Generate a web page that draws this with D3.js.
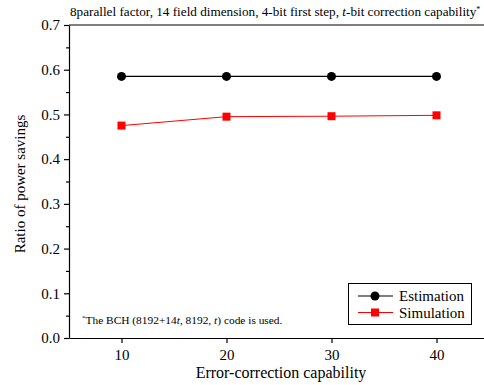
<!DOCTYPE html>
<html><head><meta charset="utf-8">
<script src="https://cdn.jsdelivr.net/npm/d3@7"></script>
<style>body{margin:0;background:#fff}svg{display:block}</style>
</head><body><svg id="c" width="484" height="385" font-family="Liberation Serif"></svg>
<script>
const capabilities = [10, 20, 30, 40];
const estimation = [0.585, 0.585, 0.585, 0.585];
const simulation = [0.475, 0.495, 0.496, 0.498];
const xTicks = [10, 20, 30, 40];
const yTicks = [0.0, 0.1, 0.2, 0.3, 0.4, 0.5, 0.6, 0.7];

const FONT = "Liberation Serif";
const svg = d3.select("#c");
const L = 69, T = 25, B = 338;
const x = d3.scaleLinear().domain([5, 45]).range([L, L + 420]);
const y = d3.scaleLinear().domain([0, 0.7]).range([B, T]);

svg.append("line").attr("x1", L).attr("x2", 484).attr("y1", T).attr("y2", T).attr("stroke", "#000").attr("stroke-width", 1.2);

const yAxis = svg.append("g").attr("transform", `translate(${L},0)`)
  .call(d3.axisLeft(y).tickValues(yTicks).tickFormat(d3.format(".1f")).tickSize(5).tickSizeOuter(0));
svg.append("g").attr("transform", `translate(${L},0)`)
  .call(d3.axisLeft(y).tickValues(d3.range(0.05, 0.7, 0.1)).tickFormat("").tickSize(3).tickSizeOuter(0))
  .select(".domain").remove();
const xAxis = svg.append("g").attr("transform", `translate(0,${B})`)
  .call(d3.axisBottom(x).tickValues(xTicks).tickSize(5).tickSizeOuter(0));
svg.selectAll("g").attr("font-family", FONT);
svg.selectAll(".tick text").attr("font-size", 15).attr("fill", "#000");
yAxis.selectAll(".tick text").attr("dx", "-1");
xAxis.selectAll(".tick text").attr("dy", "0.9em");
svg.selectAll(".domain, .tick line").attr("stroke", "#000").attr("stroke-width", 1.2);

const line = d3.line().x((d, i) => x(capabilities[i])).y(d => y(d));
svg.append("path").datum(estimation).attr("d", line).attr("fill", "none").attr("stroke", "#000").attr("stroke-width", 1.2);
svg.append("path").datum(simulation).attr("d", line).attr("fill", "none").attr("stroke", "#f00").attr("stroke-width", 1);
svg.selectAll("circle.e").data(estimation).join("circle").attr("class", "e")
  .attr("cx", (d, i) => x(capabilities[i])).attr("cy", d => y(d)).attr("r", 4.5).attr("fill", "#000");
svg.selectAll("rect.s").data(simulation).join("rect").attr("class", "s")
  .attr("x", (d, i) => x(capabilities[i]) - 4).attr("y", d => y(d) - 4).attr("width", 8).attr("height", 8).attr("fill", "#f00");

const title = svg.append("text").attr("x", 70).attr("y", 16).attr("font-size", 13.2);
title.append("tspan").text("8parallel factor, 14 field dimension, 4-bit first step, ");
title.append("tspan").attr("font-style", "italic").text("t");
title.append("tspan").text("-bit correction capability");
title.append("tspan").attr("font-size", 8).attr("dy", -4).text("*");

svg.append("text").attr("x", 281).attr("y", 378).attr("text-anchor", "middle").attr("font-size", 16).text("Error-correction capability");
svg.append("text").attr("transform", "translate(25,184) rotate(-90)").attr("text-anchor", "middle").attr("font-size", 15).text("Ratio of power savings");

const fn = svg.append("text").attr("x", 82).attr("y", 324).attr("font-size", 11.4);
fn.append("tspan").attr("font-size", 7).attr("dy", -4).text("*");
fn.append("tspan").attr("dy", 4).text("The BCH (8192+14");
fn.append("tspan").attr("font-style", "italic").text("t");
fn.append("tspan").text(", 8192, ");
fn.append("tspan").attr("font-style", "italic").text("t");
fn.append("tspan").text(") code is used.");

const lg = svg.append("g");
lg.append("rect").attr("x", 348.5).attr("y", 283.5).attr("width", 123).attr("height", 41).attr("fill", "#fff").attr("stroke", "#000").attr("stroke-width", 1);
const items = [{n: "Estimation", c: "#000", m: "c"}, {n: "Simulation", c: "#f00", m: "s"}];
items.forEach((it, i) => {
  const yy = 296 + i * 16.5;
  lg.append("line").attr("x1", 358).attr("x2", 393).attr("y1", yy).attr("y2", yy).attr("stroke", it.c).attr("stroke-width", 1.2);
  if (it.m === "c") lg.append("circle").attr("cx", 375).attr("cy", yy).attr("r", 4.5).attr("fill", it.c);
  else lg.append("rect").attr("x", 371).attr("y", yy - 4).attr("width", 8).attr("height", 8).attr("fill", it.c);
  lg.append("text").attr("x", 399).attr("y", yy + 5).attr("font-size", 15).text(it.n);
});
</script></body></html>
